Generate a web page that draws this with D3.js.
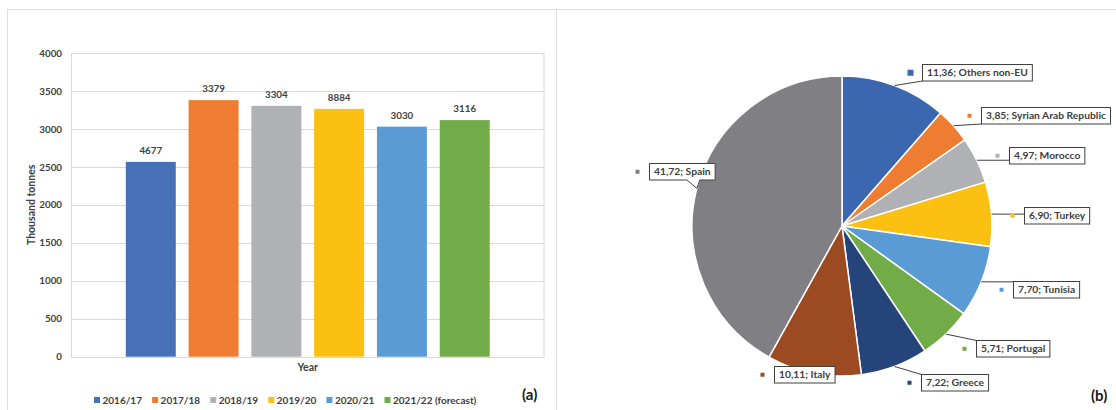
<!DOCTYPE html>
<html>
<head>
<meta charset="utf-8">
<script src="https://cdn.jsdelivr.net/npm/d3@7"></script>
<style>
  html, body { margin: 0; padding: 0; background: #ffffff; }
  svg { display: block; font-family: Lato, "Open Sans", sans-serif; }
</style>
</head>
<body>
<svg id="chart" width="1116" height="410"></svg>
<script>
// ---------------- data ----------------
const years = ["2016/17", "2017/18", "2018/19", "2019/20", "2020/21", "2021/22 (forecast)"];
const production = [2566, 3379, 3304, 3264, 3030, 3116];
const productionLabels = ["4677", "3379", "3304", "8884", "3030", "3116"];
const yTicks = [0, 500, 1000, 1500, 2000, 2500, 3000, 3500, 4000];
const barColors = ["#4670b8", "#ee7d31", "#b0b1b5", "#fbc012", "#5b9bd5", "#71ac48"];

const countries = ["Others non-EU", "Syrian Arab Republic", "Morocco", "Turkey", "Tunisia", "Portugal", "Greece", "Italy", "Spain"];
const shares = [11.36, 3.85, 4.97, 6.90, 7.70, 5.71, 7.22, 10.11, 41.72];
const pieColors = ["#3b67b0", "#ee7d31", "#b0b1b5", "#fbc012", "#5b9bd5", "#71ac48", "#25447a", "#9c4a22", "#808084"];

// label layout (box placement relative to the slice edge point)
const labelLayout = [
  { dx: 27, dy: -13, mode: "left", key: 6 },
  { dx: 27, dy: -10, mode: "left", key: 4 },
  { dx: 32, dy: -5, mode: "left", key: 4 },
  { dx: 32.5, dy: 1, mode: "left", key: 4 },
  { dx: 31.5, dy: 7, mode: "left", key: 4 },
  { dx: 30, dy: 14.5, mode: "left", key: 4 },
  { dx: 26.5, dy: 16, mode: "left", key: 4 },
  { dx: -9.5, dy: 1, mode: "center", key: 4 },
  { dx: -15, dy: -17, mode: "callout", key: 4 }
];

const svg = d3.select("#chart");
const textColor = "#404040";
const gridColor = "#d9d9d9";

// ---------------- panel frames ----------------
svg.append("line").attr("x1", 7).attr("x2", 1116).attr("y1", 9.5).attr("y2", 9.5).attr("stroke", "#dedede");
svg.append("line").attr("x1", 7.5).attr("x2", 7.5).attr("y1", 9).attr("y2", 410).attr("stroke", "#dedede");
svg.append("line").attr("x1", 556.5).attr("x2", 556.5).attr("y1", 9).attr("y2", 410).attr("stroke", "#dedede");

// ---------------- bar chart (a) ----------------
const plotL = 71.5, plotR = 544, plotT = 53, plotB = 356.7;
const y = d3.scaleLinear().domain([0, 4000]).range([plotB, plotT]);
const x = d3.scaleBand().domain(years).range([plotL, plotR]).paddingInner(0.204).paddingOuter(0.865);

const gA = svg.append("g");
// gridlines
gA.selectAll("line.grid").data(yTicks).join("line")
  .attr("x1", plotL).attr("x2", plotR)
  .attr("y1", d => Math.round(y(d)) + 0.5).attr("y2", d => Math.round(y(d)) + 0.5)
  .attr("stroke", gridColor).attr("stroke-width", 1);
// plot border
gA.append("rect").attr("x", plotL).attr("y", Math.round(plotT) + 0.5)
  .attr("width", plotR - plotL).attr("height", Math.round(plotB) - Math.round(plotT))
  .attr("fill", "none").attr("stroke", gridColor);

// y axis via d3.axisLeft
const yAxis = d3.axisLeft(y).tickValues(yTicks).tickSize(0).tickPadding(0).tickFormat(d3.format("d"));
const gy = gA.append("g").attr("transform", "translate(62,0)").call(yAxis);
gy.select(".domain").remove();
gy.selectAll("text").attr("fill", textColor).attr("font-size", "9.8px").attr("font-weight", 700)
  .attr("font-family", "Lato, sans-serif");

// bars
gA.selectAll("rect.bar").data(years).join("rect")
  .attr("x", d => x(d)).attr("width", x.bandwidth())
  .attr("y", (d, i) => y(production[i])).attr("height", (d, i) => plotB - y(production[i]))
  .attr("fill", (d, i) => barColors[i]);

// value labels
gA.selectAll("text.val").data(years).join("text")
  .attr("x", d => x(d) + x.bandwidth() / 2)
  .attr("y", (d, i) => y(production[i]) - 8)
  .attr("text-anchor", "middle").attr("fill", textColor)
  .attr("font-size", "9.8px").attr("font-weight", 700)
  .text((d, i) => productionLabels[i]);

// axis titles
gA.append("text").attr("x", (plotL + plotR) / 2).attr("y", 370.5)
  .attr("text-anchor", "middle").attr("fill", textColor)
  .attr("font-size", "10.5px").attr("font-weight", 700).text("Year");
gA.append("text").attr("transform", `translate(34.5,${(plotT + plotB) / 2}) rotate(-90)`)
  .attr("text-anchor", "middle").attr("fill", textColor)
  .attr("font-size", "10.5px").attr("font-weight", 700).text("Thousand tonnes");

// legend
const legX0 = 94, legStep = 58.1, legY = 400;
const leg = gA.selectAll("g.leg").data(years).join("g")
  .attr("transform", (d, i) => `translate(${legX0 + i * legStep},${legY})`);
leg.append("rect").attr("x", 0).attr("y", -3).attr("width", 6).attr("height", 6)
  .attr("fill", (d, i) => barColors[i]);
leg.append("text").attr("x", 8.5).attr("y", 3.6).attr("fill", textColor)
  .attr("font-size", "10px").attr("font-weight", 700).text(d => d);

gA.append("text").attr("x", 522).attr("y", 400).attr("fill", "#1a1a1a")
  .attr("font-size", "15px").attr("font-weight", 700).text("(a)");

// ---------------- pie chart (b) ----------------
const cx = 842, cy = 226, R = 150;
const pie = d3.pie().sort(null).value(d => d).startAngle(0).endAngle(2 * Math.PI);
const arcs = pie(shares);
const arc = d3.arc().innerRadius(0).outerRadius(R);
const gB = svg.append("g").attr("transform", `translate(${cx},${cy})`);

gB.selectAll("path.slice").data(arcs).join("path")
  .attr("d", arc).attr("fill", (d, i) => pieColors[i])
  .attr("stroke", "#ffffff").attr("stroke-width", 1.5).attr("stroke-linejoin", "round");

const fmt = v => v.toFixed(2).replace(".", ",");
const gL = svg.append("g");
const padX = 4.5, boxH = 16.5;

arcs.forEach((a, i) => {
  const mid = (a.startAngle + a.endAngle) / 2;
  const ax = cx + R * Math.sin(mid);
  const ay = cy - R * Math.cos(mid);
  const lay = labelLayout[i];
  const label = `${fmt(shares[i])}; ${countries[i]}`;

  const g = gL.append("g");
  const t = g.append("text").attr("fill", textColor).attr("font-size", "10.3px")
    .attr("font-weight", 700).text(label);
  const tw = t.node().getComputedTextLength();
  const bw = tw + 2 * padX;

  let left, top;
  if (lay.mode === "left") {
    left = ax + lay.dx;
    top = ay + lay.dy - boxH / 2;
  } else {
    left = ax + lay.dx - bw / 2;
    top = ay + lay.dy - boxH / 2;
  }
  left = Math.round(left) + 0.5; top = Math.round(top) + 0.5;
  const right = left + bw, bottom = top + boxH;

  // leader line
  if (lay.mode === "left") {
    const ey = Math.max(top, Math.min(bottom, ay));
    g.insert("line", "text").attr("x1", ax).attr("y1", ay).attr("x2", left).attr("y2", ey)
      .attr("stroke", "#404040").attr("stroke-width", 1);
  }
  if (lay.mode === "callout") {
    const p1 = ax - 10, p2 = ax + 3;
    const path = `M${left},${top}H${right}V${bottom}H${p2}L${ax},${ay}L${p1},${bottom}H${left}Z`;
    g.insert("path", "text").attr("d", path).attr("fill", "#fff").attr("stroke", "#404040").attr("stroke-width", 1);
  } else {
    g.insert("rect", "text").attr("x", left).attr("y", top).attr("width", bw).attr("height", boxH)
      .attr("fill", "#fff").attr("stroke", "#404040").attr("stroke-width", 1);
  }
  t.attr("x", left + padX).attr("y", top + boxH / 2 + 3.7);

  // legend key square
  const k = lay.key;
  g.append("rect").attr("x", left - 12 - k / 2).attr("y", top + boxH / 2 - k / 2)
    .attr("width", k).attr("height", k).attr("fill", pieColors[i]);
});

svg.append("text").attr("x", 1091).attr("y", 401).attr("fill", "#1a1a1a")
  .attr("font-size", "15px").attr("font-weight", 700).text("(b)");
</script>
</body>
</html>
